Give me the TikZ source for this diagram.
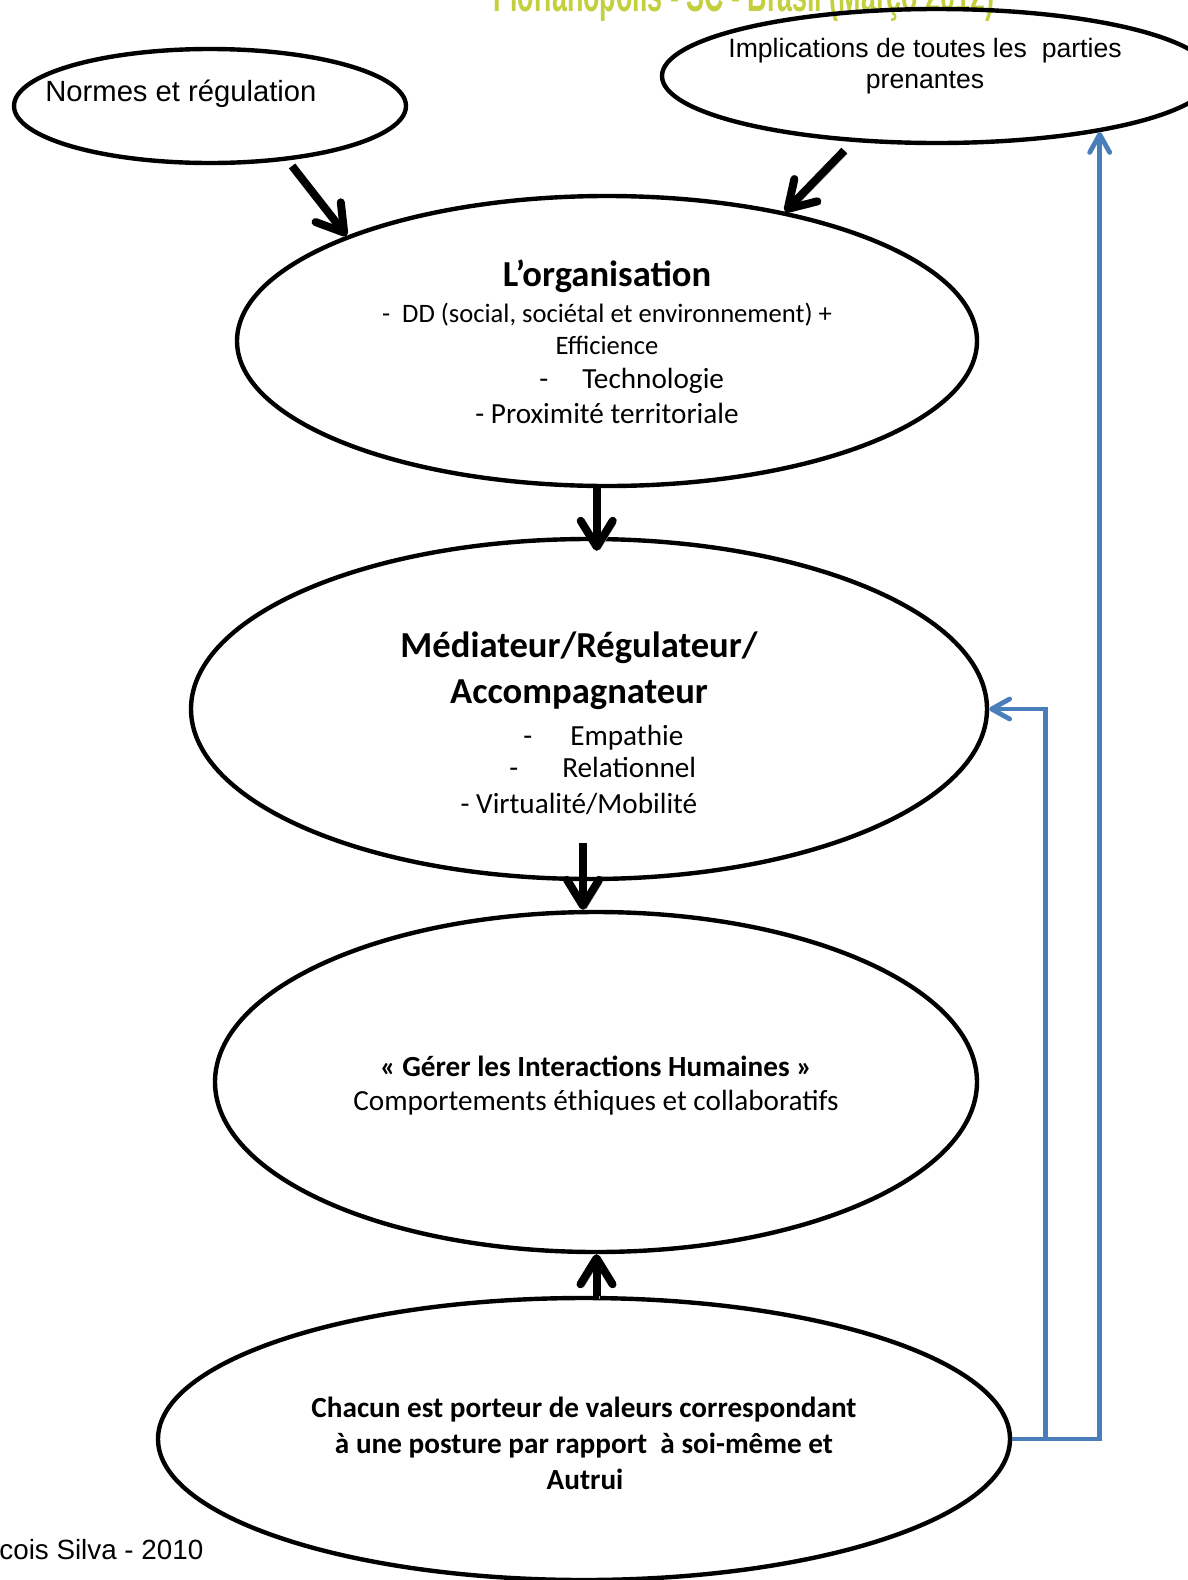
\documentclass[tikz,border=0pt]{standalone}
\usepackage{fontspec}
\setmainfont{Carlito}
\newfontfamily\arialfont{Liberation Sans}
\newfontfamily\bannerfont{Liberation Sans}[FakeStretch=0.56]
\usepackage{xcolor}
\usepackage{tikz}
\usetikzlibrary{arrows.meta,calc,shapes.geometric}
\definecolor{Ink}{HTML}{000000}
\definecolor{LinkBlue}{HTML}{4A7EBB}
\definecolor{Lime}{HTML}{C3CF3C}
\definecolor{Shade}{HTML}{A6A6A6}
\tikzset{
  oval/.style={ellipse,draw=Ink,line width=2.2pt,inner sep=0pt},
  body/.style={anchor=base,inner sep=0pt,text=Ink,font=\fontsize{14.6}{17}\selectfont},
  small/.style={body,font=\fontsize{13.3}{16}\selectfont},
  title/.style={body,font=\fontsize{18.3}{22}\selectfont\bfseries},
  boldline/.style={body,font=\fontsize{14.6}{17}\selectfont\bfseries},
  arial/.style={anchor=base,inner sep=0pt,text=Ink,font=\arialfont\fontsize{14.6}{17}\selectfont},
  bigarrow/.style={-{Straight Barb[round,length=13pt,width=16pt]},line width=4pt,draw=Ink,
    preaction={draw=Shade,transform canvas={shift={(1.5pt,-1.5pt)}}}},
  linkarrow/.style={-{Straight Barb[round,length=9pt,width=10pt]},line width=2.4pt,draw=LinkBlue}
}

\begin{document}
\begin{tikzpicture}[x=0.5pt,y=-0.5pt]
  \useasboundingbox (0,0) rectangle (1188,1580);
  \clip (0,0) rectangle (1188,1580);
  % header and footer, cut by the page edge
  \node[anchor=base,inner sep=0pt,text=Lime,font=\bannerfont\bfseries\fontsize{24}{26}\selectfont] (banner) at (744,11) {Florianopolis - SC - Brasil (Março 2012)};
  \node[arial,anchor=base west,font=\arialfont\fontsize{13.9}{16}\selectfont] (credit) at (-1,1559) {cois Silva - 2010};

  % ellipses
  \node[oval,minimum width=196pt,minimum height=57pt] (norm) at (210,106) {};
  \node[oval,minimum width=275pt,minimum height=67pt] (impl) at (937,76) {};
  \node[oval,minimum width=370pt,minimum height=145pt] (org) at (607,341) {};
  \node[oval,minimum width=398pt,minimum height=170pt] (med) at (589,709) {};
  \node[oval,minimum width=381pt,minimum height=170pt] (ger) at (596,1082) {};
  \node[oval,minimum width=426pt,minimum height=141pt] (chac) at (584,1439) {};

  % texts
  \node[arial,anchor=base west] (normtxt) at (45,101) {Normes et régulation};
  \node[arial,font=\arialfont\fontsize{13.3}{16}\selectfont] (impltxt) at (925,57) {Implications de toutes les \ parties};
  \node[arial,font=\arialfont\fontsize{13.3}{16}\selectfont] (impltxtb) at (925,88) {prenantes};

  \node[title] (orgtitle) at (607,286) {L’organisation};
  \node[small] (orgdd) at (607,322) {-\ \ DD (social, sociétal et environnement) +};
  \node[small] (orgeff) at (607,354) {Efficience};
  \node[body,anchor=base west] (orgtech) at (539,388) {-\hspace{17pt}Technologie};
  \node[body] (orgprox) at (607,423) {- Proximité territoriale};

  \node[title] (medtitle) at (579,657) {Médiateur/Régulateur/};
  \node[title] (medtitleb) at (579,703) {Accompagnateur};
  \node[body,anchor=base west] (medemp) at (523,745) {-\hspace{19pt}Empathie};
  \node[body,anchor=base west] (medrel) at (509,777) {-\hspace{22pt}Relationnel};
  \node[body] (medvirt) at (579,813) {- Virtualité/Mobilité};

  \node[boldline] (gertitle) at (596,1076) {« Gérer les Interactions Humaines »};
  \node[body] (gertxt) at (596,1110) {Comportements éthiques et collaboratifs};

  \node[boldline] (chactxt) at (584,1417) {Chacun est porteur de valeurs correspondant};
  \node[boldline] (chactxtb) at (584,1453) {à une posture par rapport \ à soi-même et};
  \node[boldline] (chactxtc) at (585,1489) {Autrui};

  % black arrows
  \draw[bigarrow,shorten <=3.5pt] (norm.-35) -- (org.158);
  \draw[bigarrow,shorten <=6pt] (impl.-142) -- (org.36);
  \draw[bigarrow,shorten >=-7pt] (org.-94) -- (org.-94 |- med.north);
  \draw[bigarrow,shorten <=-19pt] (med.-92) -- (med.-92 |- ger.north);
  \draw[bigarrow] (chac.85) -- (chac.85 |- ger.south);

  % blue feedback
  \coordinate (split) at ($(chac.east)+(33,0)$);
  \draw[linkarrow] (chac.east) -| (impl.-19);
  \draw[linkarrow] (split) |- (med.east);
\end{tikzpicture}
\end{document}
